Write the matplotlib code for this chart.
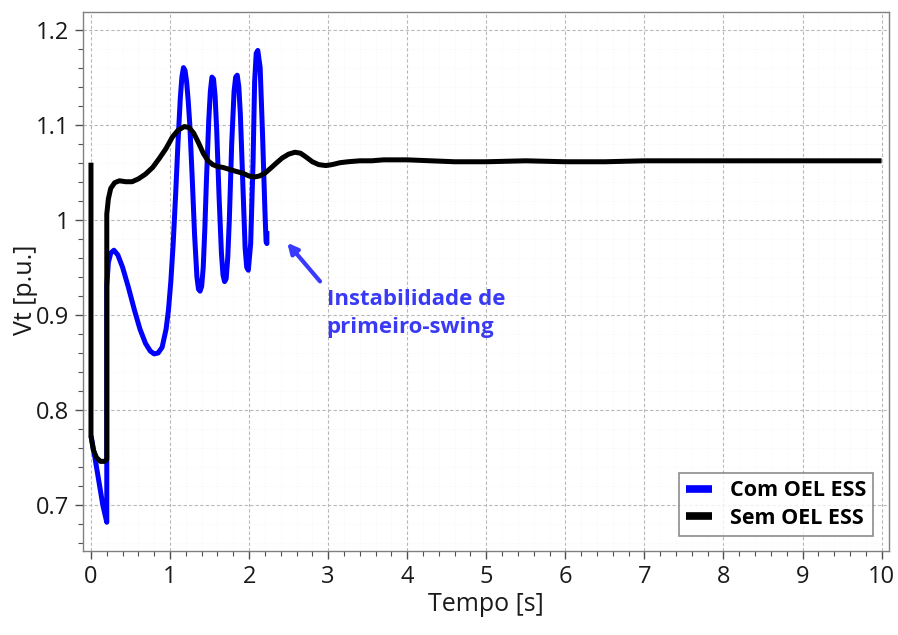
import matplotlib
matplotlib.use("Agg")
import matplotlib.pyplot as plt
from matplotlib.ticker import MultipleLocator, FuncFormatter

# Data
t_sem = [0.0, 0.0, 0.03, 0.07, 0.12, 0.17, 0.20, 0.20, 0.22, 0.25, 0.30, 0.36, 0.44,
         0.52, 0.60, 0.69, 0.78, 0.86, 0.95, 1.03, 1.10, 1.18, 1.24, 1.30, 1.36, 1.42,
         1.48, 1.54, 1.60, 1.67, 1.75, 1.83, 1.92, 2.00, 2.07, 2.13, 2.20, 2.27, 2.35,
         2.42, 2.50, 2.58, 2.65, 2.72, 2.80, 2.88, 2.97, 3.05, 3.15, 3.25, 3.40, 3.55,
         3.70, 3.85, 4.00, 4.30, 4.60, 5.00, 5.50, 6.00, 6.50, 7.00, 7.50, 8.00, 8.50,
         9.00, 9.50, 10.00]
v_sem = [1.060, 0.773, 0.758, 0.750, 0.746, 0.746, 0.748, 1.006, 1.022, 1.033, 1.039,
         1.041, 1.040, 1.040, 1.043, 1.048, 1.055, 1.064, 1.075, 1.087, 1.094, 1.098,
         1.097, 1.091, 1.081, 1.070, 1.062, 1.058, 1.056, 1.055, 1.053, 1.051, 1.049,
         1.046, 1.045, 1.046, 1.049, 1.054, 1.060, 1.065, 1.069, 1.071, 1.070, 1.066,
         1.061, 1.058, 1.057, 1.058, 1.060, 1.061, 1.062, 1.062, 1.063, 1.063, 1.063,
         1.062, 1.061, 1.061, 1.062, 1.061, 1.061, 1.062, 1.062, 1.062, 1.062, 1.062,
         1.062, 1.062]

t_com = [0.0, 0.05, 0.10, 0.15, 0.20, 0.20, 0.22, 0.25, 0.29, 0.34, 0.40, 0.47, 0.55,
         0.62, 0.69, 0.75, 0.80, 0.85, 0.90, 0.95, 0.98, 1.01, 1.04, 1.07, 1.10, 1.13,
         1.15, 1.17, 1.19, 1.21, 1.23, 1.25, 1.28, 1.31, 1.34, 1.36, 1.38, 1.40, 1.42,
         1.44, 1.46, 1.49, 1.51, 1.53, 1.55, 1.57, 1.59, 1.62, 1.65, 1.67, 1.69, 1.71,
         1.73, 1.75, 1.78, 1.81, 1.83, 1.85, 1.87, 1.89, 1.92, 1.95, 1.97, 1.99, 2.02,
         2.05, 2.07, 2.09, 2.11, 2.14, 2.17, 2.20, 2.215, 2.225, 2.225]
v_com = [0.773, 0.750, 0.725, 0.700, 0.682, 0.930, 0.955, 0.965, 0.968, 0.963, 0.950,
         0.930, 0.905, 0.885, 0.870, 0.862, 0.859, 0.860, 0.866, 0.885, 0.905, 0.935,
         0.975, 1.025, 1.080, 1.128, 1.150, 1.160, 1.157, 1.145, 1.125, 1.100, 1.045,
         0.985, 0.940, 0.927, 0.925, 0.930, 0.950, 0.990, 1.040, 1.105, 1.135, 1.150,
         1.148, 1.130, 1.095, 1.025, 0.965, 0.942, 0.935, 0.938, 0.960, 1.000, 1.080,
         1.135, 1.150, 1.152, 1.140, 1.110, 1.040, 0.970, 0.950, 0.947, 0.975, 1.060,
         1.145, 1.175, 1.178, 1.160, 1.090, 1.010, 0.977, 0.975, 0.988]

x_ticks = [0, 1, 2, 3, 4, 5, 6, 7, 8, 9, 10]
y_ticks = [0.7, 0.8, 0.9, 1.0, 1.1, 1.2]

plt.rcParams['font.family'] = ['Open Sans', 'DejaVu Sans']

fig = plt.figure(figsize=(8.98, 6.35), dpi=100)
ax = fig.add_axes([0.0925, 0.132, 0.898, 0.8495])

ax.plot(t_com, v_com, color='#0000ff', lw=3.6, solid_joinstyle='round',
        solid_capstyle='butt', label='Com OEL ESS', zorder=3)
ax.plot(t_sem, v_sem, color='#000000', lw=3.6, solid_joinstyle='round',
        solid_capstyle='butt', label='Sem OEL ESS', zorder=4)

ax.set_xlim(-0.1, 10.1)
ax.set_ylim(0.6516, 1.2187)
ax.set_xticks(x_ticks)
ax.set_yticks(y_ticks)
ax.xaxis.set_minor_locator(MultipleLocator(0.2))
ax.yaxis.set_minor_locator(MultipleLocator(0.02))
ax.yaxis.set_major_formatter(FuncFormatter(lambda v, p: f"{v:g}"))

ax.grid(which='major', color='#b8b8b8', linestyle=(0, (3, 2)), linewidth=0.8)
ax.grid(which='minor', color='#f2f2f2', linestyle=(0, (1, 2)), linewidth=0.5)
ax.set_axisbelow(True)

for s in ['left', 'bottom', 'top', 'right']:
    ax.spines[s].set_color('#808080')
    ax.spines[s].set_linewidth(1.0)

ax.tick_params(which='major', direction='out', length=6, width=1, color='#505050',
               labelsize=17, pad=4, labelcolor='#1a1a1a')
ax.tick_params(which='minor', direction='out', length=3.5, width=0.8, color='#505050')
ax.tick_params(top=False, right=False, which='both')

ax.set_xlabel('Tempo [s]', fontsize=18, color='#1a1a1a', labelpad=2)
ax.set_ylabel('Vt [p.u.]', fontsize=18, color='#1a1a1a')
ax.yaxis.set_label_coords(-0.056, 0.485)

ax.annotate('', xy=(2.46, 0.978), xytext=(2.92, 0.933),
            arrowprops=dict(arrowstyle='-|>,head_length=0.6,head_width=0.3',
                            color='#3a3aff', lw=3))
ax.text(2.98, 0.9015, 'Instabilidade de\nprimeiro-swing', color='#3a3af5',
        fontsize=16, fontweight='bold', va='center', ha='left', linespacing=1.45)

leg = ax.legend(loc='lower right', fontsize=15.5, frameon=True, fancybox=False,
                edgecolor='#707070', handlelength=1.2, borderpad=0.35,
                labelspacing=0.3, handletextpad=0.8, bbox_to_anchor=(0.9935, 0.008))
for txt in leg.get_texts():
    txt.set_fontweight('bold')
leg.get_frame().set_linewidth(1.2)
for h in leg.get_lines():
    h.set_linewidth(5.5)

fig.savefig('out.png', dpi=100)
